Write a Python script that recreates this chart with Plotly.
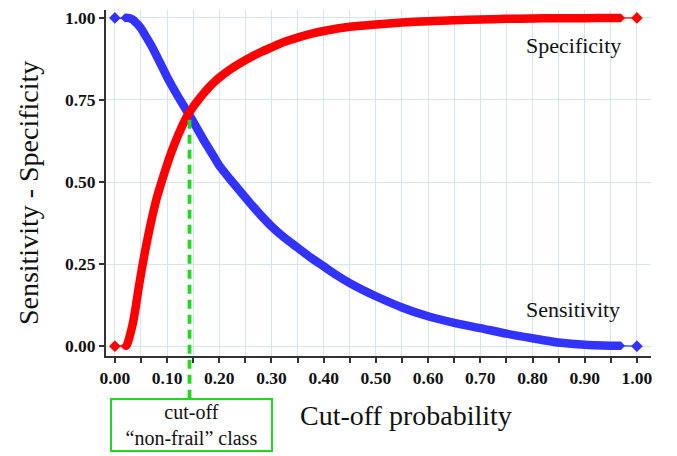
import plotly.graph_objects as go

# ---- data ----
cutoff_sens = [0.00, 0.018, 0.025, 0.03, 0.035, 0.04, 0.045, 0.05, 0.06, 0.07, 0.08, 0.09,
               0.10, 0.11, 0.12, 0.13, 0.14, 0.15, 0.16, 0.17, 0.18, 0.19, 0.20, 0.22,
               0.24, 0.26, 0.28, 0.30, 0.325, 0.35, 0.375, 0.40, 0.425, 0.45, 0.475,
               0.50, 0.55, 0.60, 0.65, 0.70, 0.75, 0.80, 0.85, 0.90, 0.95, 0.97, 1.00]
sensitivity = [1.000, 1.000, 1.000, 0.998, 0.994, 0.986, 0.978, 0.968, 0.942, 0.915, 0.884, 0.852,
               0.820, 0.791, 0.763, 0.737, 0.710, 0.684, 0.656, 0.628, 0.602, 0.576, 0.550, 0.510,
               0.472, 0.434, 0.398, 0.365, 0.330, 0.300, 0.270, 0.243, 0.216, 0.192, 0.171,
               0.152, 0.118, 0.091, 0.071, 0.055, 0.038, 0.024, 0.011, 0.004, 0.0015, 0.001, 0.000]

cutoff_spec = [0.00, 0.018, 0.022, 0.025, 0.03, 0.035, 0.04, 0.045, 0.05, 0.055, 0.06, 0.065,
               0.07, 0.08, 0.09, 0.10, 0.11, 0.12, 0.13, 0.14, 0.15, 0.16, 0.17, 0.18, 0.19,
               0.20, 0.22, 0.24, 0.26, 0.28, 0.30, 0.325, 0.35, 0.375, 0.40, 0.45, 0.50,
               0.55, 0.60, 0.65, 0.70, 0.75, 0.80, 0.85, 0.90, 0.95, 0.97, 1.00]
specificity = [0.000, 0.000, 0.002, 0.012, 0.040, 0.074, 0.120, 0.172, 0.220, 0.265, 0.307, 0.346,
               0.383, 0.450, 0.503, 0.553, 0.598, 0.638, 0.674, 0.705, 0.729, 0.750, 0.770, 0.788, 0.804,
               0.818, 0.842, 0.862, 0.880, 0.896, 0.910, 0.927, 0.940, 0.951, 0.960, 0.973, 0.980,
               0.986, 0.990, 0.993, 0.995, 0.997, 0.998, 0.999, 0.999, 1.000, 1.000, 1.000]

cutoff_value = 0.143
cutoff_level = 0.69

x_ticks = [0.0, 0.1, 0.2, 0.3, 0.4, 0.5, 0.6, 0.7, 0.8, 0.9, 1.0]
x_ticklabels = ["0.00", "0.10", "0.20", "0.30", "0.40", "0.50", "0.60", "0.70", "0.80", "0.90", "1.00"]
y_ticks = [0.0, 0.25, 0.5, 0.75, 1.0]
y_ticklabels = ["0.00", "0.25", "0.50", "0.75", "1.00"]

# ---- styling ----
BLUE = "#3333ff"
RED = "#ff0000"
GREEN = "#22d622"
GRID = "#d2e7ef"
AXIS = "#333333"
SERIF = "Liberation Serif"
XR = [-0.017, 1.027]
YR = [-0.030, 1.024]

fig = go.Figure()

for xs, ys, col in [(cutoff_sens, sensitivity, BLUE), (cutoff_spec, specificity, RED)]:
    sizes = [9 if i in (0, len(xs) - 1) else 6 for i in range(len(xs))]
    # thin connector + diamond markers through all points
    fig.add_trace(go.Scatter(x=xs, y=ys, mode="lines+markers",
                             line=dict(color=col, width=1.2),
                             marker=dict(symbol="diamond", size=sizes, color=col, opacity=1,
                                         line=dict(width=0)),
                             opacity=1, showlegend=False, hoverinfo="skip"))
    # thick dense band for the inner points
    fig.add_trace(go.Scatter(x=xs[1:-1], y=ys[1:-1], mode="lines",
                             line=dict(color=col, width=8.5, shape="spline", smoothing=0.6),
                             showlegend=False, hoverinfo="skip"))

axis_common = dict(showline=True, linecolor=AXIS, linewidth=2, mirror=False,
                   ticks="outside", ticklen=5, tickwidth=1.5, tickcolor=AXIS,
                   showgrid=True, gridcolor=GRID, gridwidth=1, zeroline=False,
                   ticklabeloverflow="allow",
                   tickfont=dict(family=SERIF, size=17.5, color="#111111", weight="bold"))

fig.update_xaxes(range=XR, tickvals=x_ticks, ticktext=x_ticklabels,
                 minor=dict(dtick=0.05, tick0=0, ticks="outside", ticklen=5, tickcolor=AXIS,
                            showgrid=True, gridcolor=GRID, gridwidth=1),
                 **axis_common)
fig.update_yaxes(range=YR, tickvals=y_ticks, ticktext=y_ticklabels, **axis_common)

# paper position of the cutoff
xp = (cutoff_value - XR[0]) / (XR[1] - XR[0])
yp_top = (cutoff_level - YR[0]) / (YR[1] - YR[0])

fig.add_shape(type="line", xref="paper", yref="paper", x0=xp, x1=xp, y0=yp_top, y1=-0.124,
              line=dict(color=GREEN, width=3.8, dash="9px,6px"), layer="above")

annotations = [
    dict(text="Specificity", x=0.879, y=0.916, xref="x", yref="y", showarrow=False,
         font=dict(family=SERIF, size=22, color="#111111")),
    dict(text="Sensitivity", x=0.878, y=0.111, xref="x", yref="y", showarrow=False,
         font=dict(family=SERIF, size=22, color="#111111")),
    dict(text="Cut-off probability", x=0.55, y=-0.172, xref="paper", yref="paper",
         showarrow=False, xanchor="center", yanchor="middle",
         font=dict(family=SERIF, size=28, color="#111111")),
    dict(text="Sensitivity - Specificity", x=-0.143, y=0.471, xref="paper", yref="paper",
         showarrow=False, textangle=-90, xanchor="center", yanchor="middle",
         font=dict(family=SERIF, size=28, color="#111111")),
    dict(text="cut-off<br>\u201cnon-frail\u201d class", x=0.157, y=-0.2, xref="paper", yref="paper",
         showarrow=False, xanchor="center", yanchor="middle", width=157, height=48,
         bordercolor=GREEN, borderwidth=2, borderpad=1, bgcolor="white",
         font=dict(family=SERIF, size=20, color="#111111")),
]

fig.update_layout(width=677, height=456, margin=dict(l=98, r=34, t=0, b=108),
                  plot_bgcolor="white", paper_bgcolor="white",
                  annotations=annotations, showlegend=False)

fig.write_html("out.html")
